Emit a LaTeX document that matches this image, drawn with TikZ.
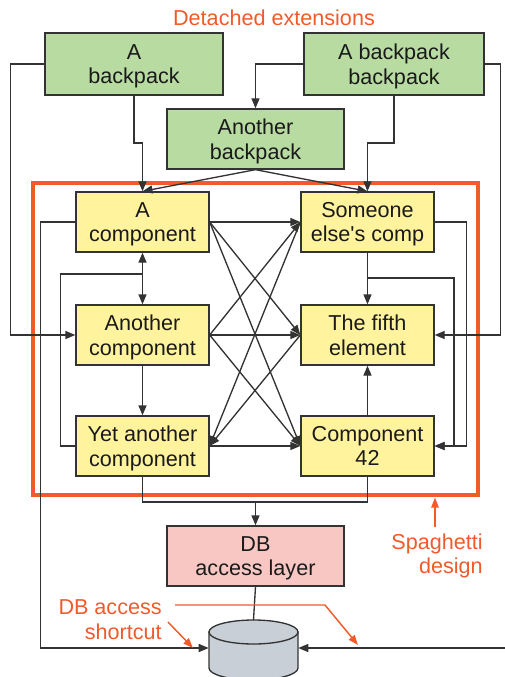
\documentclass[tikz,border=0pt]{standalone}
\usepackage{fontspec}
\setmainfont{Liberation Sans}
\usetikzlibrary{arrows.meta}

\definecolor{bpgreen}{HTML}{B8DBA2}
\definecolor{compyellow}{HTML}{FFF39E}
\definecolor{dbpink}{HTML}{F8C7C3}
\definecolor{dbgrey}{HTML}{C9CFD6}
\definecolor{accent}{HTML}{F15A29}
\definecolor{wire}{HTML}{333333}
\definecolor{textdark}{HTML}{1A1A1A}

\begin{document}
\begin{tikzpicture}[x=0.75pt,y=-0.75pt,
  font=\fontsize{16.2}{18.5}\selectfont,
  box/.style={draw=wire, line width=1pt, align=center, inner sep=0pt, text=textdark, text depth=0pt},
  greenbox/.style={box, fill=bpgreen, minimum height=46.5pt},
  yellowbox/.style={box, fill=compyellow, minimum width=99.75pt, minimum height=45pt},
  pinkbox/.style={box, fill=dbpink, minimum width=132.75pt, minimum height=45pt},
  conn/.style={draw=wire, line width=1pt, -{Triangle[length=7.5pt,width=6pt]}},
  biconn/.style={draw=wire, line width=1pt, {Triangle[length=7.5pt,width=6pt]}-{Triangle[length=7.5pt,width=6pt]}},
  plain/.style={draw=wire, line width=1pt},
  note/.style={text=accent, align=right, inner sep=0pt},
  notearrow/.style={draw=accent, line width=1.1pt, -{Triangle[length=7.5pt,width=5.5pt]}}
]
\useasboundingbox (0,0) rectangle (505,677);
\clip (0,0) rectangle (505,677);

% backpacks
\node[greenbox, minimum width=133.5pt] (bpA) at (134,64) {A\\backpack};
\node[greenbox, minimum width=135pt] (bpB) at (394,64) {A backpack\\backpack};
\node[greenbox, minimum width=132.75pt, minimum height=45pt] (bpC) at (255.5,139) {Another\\backpack};

% components
\node[yellowbox] (cA)  at (142.5,222) {A\\component};
\node[yellowbox] (cS)  at (367.5,222) {Someone\\else\textquotesingle s comp};
\node[yellowbox] (cAn) at (142.5,335) {Another\\component};
\node[yellowbox] (cF)  at (367.5,335) {The fifth\\element};
\node[yellowbox] (cY)  at (142.5,446) {Yet another\\component};
\node[yellowbox] (c42) at (367.5,446) {Component\\42};

% data access
\node[pinkbox] (dal) at (255.5,556) {DB\\access layer};

% database cylinder
\node[minimum width=66.75pt, minimum height=45pt, inner sep=0pt] (db) at (253.5,648) {};
\coordinate (cyltop) at (253.5,620);
\filldraw[draw=wire, fill=dbgrey, line width=1pt]
  (209,632) -- (209,668) arc[start angle=180, end angle=0, x radius=44.5, y radius=12] -- (298,632) -- cycle;
\filldraw[draw=wire, fill=dbgrey, line width=1pt] (253.5,632) ellipse [x radius=44.5, y radius=12];

% spaghetti frame
\draw[accent, line width=3pt] (33,183) rectangle (478,495);

% junction points
\coordinate (j1) at (134,143);
\coordinate (j2) at (394,143);
\coordinate (j3) at (142.5,274);
\coordinate (j4) at (367.5,278);
\coordinate (j5) at (255.5,502);
\coordinate (redge) at (506,648);

% backpack wiring
\draw[conn] (bpA.west) -- ++(-34,0) |- (cAn.west);
\draw[conn] (bpA.south) -- (j1) -| (cA.north);
\draw[conn] (bpC.south) -- (cA.north);
\draw[conn] (bpC.south) -- (cS.north);
\draw[conn] (bpB.west) -| (bpC.north);
\draw[conn] (bpB.south) -- (j2) -| (cS.north);
\draw[conn] (bpB.east) -- ++(16,0) |- (cF.east);

% left-hand wiring
\draw[conn] (cA.west) -- ++(-35,0) |- (db.west);
\draw[biconn] (cA.south) -- (cAn.north);
\draw[plain] (cY.west) -- ++(-15,0) |- (j3);
\draw[conn] (cAn.south) -- (cY.north);

% crossing wires
\draw[conn] (cA.east) -- (cS.west);
\draw[conn] (cA.east) -- (cF.west);
\draw[conn] (cA.east) -- (c42.west);
\draw[conn] (cAn.east) -- (cS.west);
\draw[conn] (cAn.east) -- (cF.west);
\draw[conn] (cAn.east) -- (c42.west);
\draw[conn] (cS.west) -- (cY.east);
\draw[conn] (cF.west) -- (cY.east);
\draw[conn] (cY.east) -- (c42.west);

% right-hand wiring
\draw[conn] (cS.east) -- ++(32,0) |- (c42.east);
\draw[conn] (cS.south) -- (cF.north);
\draw[conn] (j4) -- ++(86.5,0) |- (c42.east);
\draw[conn] (c42.north) -- (cF.south);

% down to the data layer
\draw[plain] (cY.south) |- (j5) -| (c42.south);
\draw[conn] (j5) -- (dal.north);
\draw[plain] (dal.south) -- (cyltop);
\draw[conn] (redge) -- (db.east);

% annotations
\node[note] (detached) at (274,18) {Detached extensions};
\node[note, anchor=east] (spag) at (483,556) {Spaghetti\\design};
\node[note, anchor=east] (short) at (162,620) {DB access\\shortcut};
\coordinate (spfrom) at (435,527);
\coordinate (spto) at (435,497.5);
\draw[notearrow] (spfrom) -- (spto);
\coordinate (sa1) at (168,622);
\coordinate (sa2) at (193,648);
\draw[notearrow] (sa1) -- (sa2);
\coordinate (sb1) at (175,605);
\coordinate (sb2) at (325,605);
\coordinate (sb3) at (358,645);
\draw[notearrow] (sb1) -- (sb2) -- (sb3);
\end{tikzpicture}
\end{document}
